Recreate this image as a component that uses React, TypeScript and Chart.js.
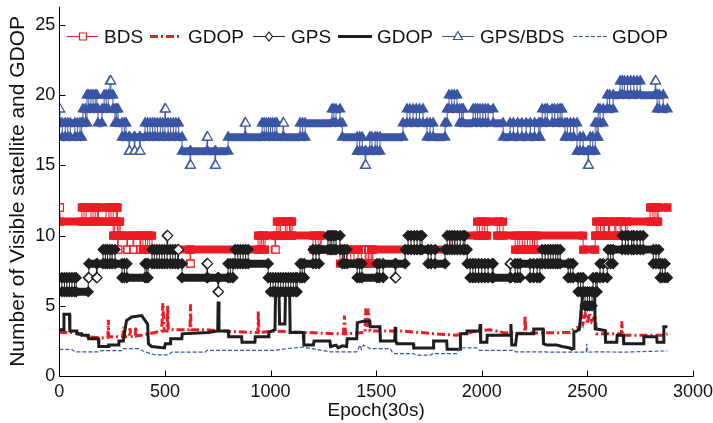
import { useEffect, useRef } from 'react';
import { Chart, registerables } from 'chart.js';
Chart.register(...registerables);

const FONT = '"Liberation Sans", Arial, Helvetica, sans-serif';
const RED = '#EC1C24';
const BLACK = '#1E1E1E';
const BLUE = '#3A55A5';

const xTicks = [0, 500, 1000, 1500, 2000, 2500, 3000];
const yTicks = [0, 5, 10, 15, 20, 25];
const legendLabels = ['BDS', 'GDOP', 'GPS', 'GDOP', 'GPS/BDS', 'GDOP'];

// satellite counts: [epoch, value] change points
const bdsCount: [number, number][] = [
  [0,12],[3,11],[107,12],[117,11],[127,12],[150,11],[160,12],[170,11],[180,12],[185,11],[221,12],[235,11],[245,12],[255,10],[262,11],[270,12],[276,9],[279,10],[283,11],[288,10],[320,9],[323,10],[349,9],[352,10],[382,9],[385,10],[396,9],[408,10],[418,9],[428,10],[439,9],[619,8],[622,9],[941,10],[950,9],[958,10],[966,9],[974,10],[1021,9],[1024,10],[1030,11],[1040,10],[1048,11],[1070,10],[1078,11],[1090,10],[1096,11],[1102,10],[1201,9],[1213,10],[1225,9],[1235,10],[1240,9],[1329,8],[1345,9],[1360,8],[1380,9],[1395,8],[1415,9],[1430,8],[1448,9],[1452,8],[1462,9],[1466,8],[1476,9],[1480,8],[1485,9],[1850,10],[1862,9],[1873,10],[1978,11],[1990,10],[2002,11],[2014,10],[2026,11],[2073,10],[2085,11],[2101,10],[2158,9],[2170,10],[2180,9],[2192,10],[2204,9],[2216,10],[2228,9],[2240,10],[2250,9],[2262,10],[2480,9],[2537,10],[2542,11],[2550,10],[2562,11],[2575,10],[2580,11],[2600,10],[2605,11],[2630,10],[2635,11],[2655,10],[2660,11],[2680,10],[2688,11],[2797,12],[2810,11],[2820,12],[2830,11],[2835,12],[2879,12]
];
const gpsCount: [number, number][] = [
  [0,7],[12,6],[24,7],[36,6],[48,7],[60,6],[72,7],[80,6],[137,7],[140,8],[176,7],[179,8],[207,9],[218,8],[228,9],[240,8],[250,9],[264,8],[297,7],[308,8],[320,7],[406,8],[414,7],[420,8],[439,9],[450,8],[462,9],[474,8],[486,9],[498,8],[510,10],[513,9],[525,8],[537,9],[549,8],[561,9],[564,8],[581,7],[699,8],[702,7],[751,6],[754,7],[799,8],[810,7],[822,8],[832,9],[845,8],[857,9],[870,8],[882,9],[894,8],[989,7],[1000,6],[1012,7],[1024,6],[1036,7],[1048,6],[1060,7],[1072,6],[1084,7],[1096,6],[1108,7],[1120,6],[1126,7],[1140,8],[1150,7],[1160,8],[1201,9],[1215,8],[1230,9],[1272,10],[1282,9],[1290,10],[1300,9],[1310,10],[1329,9],[1340,8],[1350,9],[1362,8],[1410,7],[1422,8],[1433,7],[1504,8],[1515,7],[1533,8],[1590,7],[1593,8],[1637,9],[1651,10],[1665,9],[1680,10],[1694,9],[1708,10],[1717,9],[1746,8],[1760,9],[1779,8],[1826,9],[1836,10],[1848,9],[1860,10],[1872,9],[1884,10],[1898,9],[1912,10],[1920,9],[1931,8],[1945,7],[1958,8],[1970,7],[1985,8],[2000,7],[2015,8],[2030,7],[2049,8],[2054,7],[2134,8],[2137,7],[2158,8],[2170,7],[2182,8],[2229,7],[2245,8],[2262,7],[2275,8],[2286,9],[2300,8],[2314,9],[2326,8],[2338,9],[2350,8],[2360,9],[2371,8],[2409,7],[2420,8],[2432,7],[2456,6],[2468,7],[2480,6],[2489,5],[2500,6],[2510,5],[2522,6],[2527,7],[2540,6],[2546,7],[2560,8],[2575,7],[2594,8],[2598,9],[2610,8],[2622,9],[2665,10],[2680,9],[2693,10],[2710,9],[2720,10],[2735,9],[2750,10],[2764,9],[2812,8],[2825,9],[2838,8],[2845,7],[2855,8],[2868,7],[2879,7]
];
const gpsBdsCount: [number, number][] = [
  [0,19],[3,18],[14,17],[28,18],[40,17],[52,18],[74,17],[86,18],[98,17],[106,18],[112,19],[124,18],[131,20],[140,19],[150,20],[160,19],[170,20],[178,19],[183,18],[202,19],[212,20],[222,19],[232,20],[240,21],[244,20],[254,19],[264,18],[270,19],[278,18],[297,17],[308,18],[316,17],[330,16],[333,17],[355,16],[358,17],[380,16],[383,17],[406,18],[418,17],[430,18],[442,17],[453,18],[465,17],[478,18],[490,17],[500,19],[503,18],[515,17],[527,18],[540,17],[552,18],[565,17],[581,16],[619,15],[622,16],[699,17],[702,16],[737,15],[740,16],[799,17],[879,18],[882,17],[960,18],[970,17],[980,18],[990,17],[1000,18],[1010,17],[1021,18],[1030,17],[1059,18],[1062,17],[1140,18],[1152,17],[1164,18],[1291,19],[1300,18],[1310,19],[1329,18],[1340,17],[1410,16],[1422,17],[1434,16],[1448,15],[1451,16],[1470,17],[1480,16],[1495,17],[1505,16],[1518,17],[1627,18],[1646,19],[1660,18],[1675,19],[1690,18],[1705,19],[1722,18],[1741,17],[1755,18],[1770,17],[1826,18],[1836,19],[1845,20],[1858,19],[1870,20],[1883,19],[1895,18],[1905,19],[1912,18],[1959,19],[1970,18],[1980,19],[1992,18],[2005,19],[2018,18],[2030,19],[2054,18],[2101,17],[2134,18],[2150,17],[2170,18],[2190,17],[2210,18],[2230,17],[2250,18],[2270,17],[2276,18],[2286,19],[2300,18],[2310,19],[2333,18],[2345,19],[2360,18],[2371,19],[2380,18],[2394,17],[2405,18],[2420,17],[2435,18],[2451,16],[2465,17],[2480,16],[2503,15],[2506,16],[2513,17],[2525,16],[2537,18],[2546,17],[2551,19],[2560,18],[2575,19],[2594,20],[2605,19],[2622,20],[2655,21],[2665,20],[2675,21],[2690,20],[2705,21],[2720,20],[2735,21],[2750,20],[2821,21],[2824,20],[2830,19],[2840,20],[2859,19],[2879,19]
];

// GDOP: [epoch, value]
const bdsGdop: [number, number][] = [
  [0,3.1],[60,3.1],[137,2.8],[200,2.7],[230,2.75],[232,4.0],[234,2.8],[270,2.8],[300,2.8],[305,3.5],[308,2.8],[330,2.8],[335,3.4],[338,2.8],[360,2.85],[362,3.5],[365,2.85],[421,3.0],[453,3.1],[485,3.2],[490,5.2],[497,3.2],[510,3.2],[513,5.0],[516,3.3],[600,3.3],[619,3.3],[621,5.1],[624,3.3],[690,3.3],[769,3.2],[926,3.1],[940,3.1],[942,4.6],[945,3.1],[1021,3.2],[1171,3.1],[1313,3.0],[1345,3.0],[1350,4.3],[1355,3.0],[1447,3.1],[1450,4.8],[1458,3.5],[1462,4.8],[1471,3.2],[1629,3.2],[1787,3.0],[1881,2.9],[1976,3.2],[2039,3.3],[2100,3.1],[2150,3.05],[2203,3.05],[2205,4.3],[2208,3.05],[2418,3.1],[2440,3.4],[2465,3.5],[2470,4.5],[2480,3.8],[2490,4.4],[2500,3.7],[2510,4.5],[2520,3.9],[2536,4.3],[2544,3.0],[2661,3.0],[2663,3.9],[2666,2.9],[2860,2.9],[2879,3.0]
];
const gpsGdop: [number, number][] = [
  [0,3.3],[20,3.3],[22,4.4],[48,4.4],[50,3.2],[83,3.2],[85,3.0],[106,3.0],[108,2.9],[137,2.9],[139,2.65],[185,2.65],[187,2.1],[232,2.1],[234,2.2],[280,2.2],[282,2.5],[303,2.5],[318,3.95],[343,4.2],[390,4.3],[418,3.7],[422,2.3],[437,2.1],[498,2.0],[502,2.3],[525,2.3],[527,2.65],[580,2.65],[582,3.0],[705,3.1],[750,3.2],[752,5.3],[756,3.2],[800,3.2],[802,2.8],[863,2.8],[865,2.4],[926,2.4],[928,2.8],[990,2.8],[992,3.1],[1021,3.3],[1024,6.2],[1040,6.0],[1043,3.7],[1068,3.7],[1071,6.0],[1090,6.2],[1093,3.1],[1155,3.1],[1158,2.2],[1203,2.2],[1206,2.5],[1281,2.5],[1284,2.1],[1310,2.2],[1320,2.0],[1340,2.15],[1360,2.1],[1363,2.65],[1408,2.65],[1411,3.8],[1440,3.9],[1470,3.9],[1472,3.5],[1518,3.5],[1520,2.5],[1588,2.5],[1590,3.5],[1593,2.5],[1598,2.3],[1676,2.3],[1678,2.0],[1770,2.0],[1772,2.5],[1834,2.5],[1836,1.9],[1897,1.9],[1899,3.0],[1928,3.0],[1930,3.2],[1990,3.2],[1992,3.7],[1995,2.4],[2024,2.4],[2026,2.9],[2135,2.9],[2138,3.7],[2142,2.2],[2160,2.2],[2166,3.0],[2244,3.0],[2246,3.35],[2290,3.35],[2292,2.3],[2308,2.2],[2355,2.2],[2380,2.1],[2418,2.0],[2422,1.95],[2434,1.95],[2436,3.1],[2462,3.3],[2478,5.8],[2482,6.1],[2520,6.1],[2534,6.0],[2537,3.36],[2584,3.24],[2586,2.4],[2639,2.4],[2641,2.9],[2670,2.9],[2672,2.3],[2765,2.3],[2767,2.8],[2828,2.8],[2830,2.4],[2860,2.4],[2862,3.5],[2879,3.5]
];
const gpsBdsGdop: [number, number][] = [
  [0,1.9],[59,1.9],[74,1.72],[185,1.72],[200,1.8],[295,1.8],[300,1.95],[374,1.95],[406,1.72],[453,1.5],[516,1.5],[532,1.7],[690,1.7],[700,1.83],[1021,1.83],[1077,1.95],[1156,2.05],[1282,1.72],[1408,1.72],[1424,2.2],[1430,1.9],[1440,2.2],[1471,1.95],[1566,1.95],[1580,1.6],[1676,1.6],[1690,1.48],[1755,1.48],[1770,1.6],[1881,1.6],[1895,2.0],[1976,2.0],[1990,1.83],[2150,1.83],[2160,1.72],[2300,1.72],[2308,1.7],[2495,1.7],[2497,2.3],[2500,1.7],[2544,1.72],[2670,1.7],[2860,1.78],[2879,1.78]
];

type P = [number, number][];

function thinStep(pts: P, color: string, order: number) {
  return {
    type: 'line' as const,
    data: pts.map(([x, y]) => ({ x, y })),
    stepped: true,
    borderColor: color,
    borderWidth: 1,
    pointRadius: 0,
    order,
  };
}

function band(pts: P, color: string, style: string, radius: number, order: number) {
  const data: any[] = [];
  for (let i = 0; i < pts.length - 1; i++) {
    const [x0, v] = pts[i];
    const x1 = pts[i + 1][0];
    const iso = x1 - x0 <= 4;
    data.push({ x: x0, y: v, iso });
    data.push({ x: x1, y: v, iso });
    data.push({ x: x1, y: null });
  }
  return {
    type: 'line' as const,
    data,
    borderColor: color,
    borderWidth: 8,
    borderCapStyle: 'butt',
    spanGaps: false,
    pointStyle: style,
    pointRadius: (c: any) => (c.raw && c.raw.y != null ? radius : 0),
    pointBackgroundColor: (c: any) => (c.raw && c.raw.iso ? '#ffffff' : color),
    pointBorderColor: color,
    pointBorderWidth: 1.2,
    order,
  };
}

function gdopLine(pts: P, color: string, width: number, dash: number[], order: number) {
  return {
    type: 'line' as const,
    data: pts.map(([x, y]) => ({ x, y })),
    borderColor: color,
    borderWidth: width,
    borderDash: dash,
    pointRadius: 0,
    order,
  };
}

const legendItems = [
  { x0: 67, x1: 98, mx: 83, marker: 'rect', color: RED, w: 1, dash: [] as number[], tx: 104 },
  { x0: 150, x1: 182, mx: 0, marker: '', color: RED, w: 3, dash: [8, 3, 2, 3], tx: 188 },
  { x0: 253, x1: 285, mx: 269, marker: 'diamond', color: BLACK, w: 1, dash: [], tx: 291 },
  { x0: 338, x1: 372, mx: 0, marker: '', color: BLACK, w: 3, dash: [], tx: 377 },
  { x0: 442, x1: 474, mx: 458, marker: 'triangle', color: BLUE, w: 1, dash: [], tx: 480 },
  { x0: 573, x1: 608, mx: 0, marker: '', color: BLUE, w: 1.2, dash: [4, 2], tx: 612 },
];

const decor = {
  id: 'decor',
  afterDraw(chart: any) {
    const ctx = chart.ctx as CanvasRenderingContext2D;
    const { left, bottom, top } = chart.chartArea;
    const xs = chart.scales.x;
    const ys = chart.scales.y;
    ctx.save();
    ctx.strokeStyle = '#000';
    ctx.lineWidth = 1;
    ctx.beginPath();
    const L = Math.round(left) + 0.5;
    const B = Math.round(bottom) + 0.5;
    ctx.moveTo(L, top);
    ctx.lineTo(L, B);
    ctx.lineTo(Math.round(xs.getPixelForValue(3000)) + 0.5, B);
    for (const v of xTicks) {
      const px = Math.round(xs.getPixelForValue(v)) + 0.5;
      ctx.moveTo(px, B);
      ctx.lineTo(px, B - 6);
    }
    for (const v of yTicks) {
      const py = Math.round(ys.getPixelForValue(v)) + 0.5;
      ctx.moveTo(L, py);
      ctx.lineTo(L + 6, py);
    }
    ctx.stroke();

    // legend
    const ly = 36.5;
    ctx.font = `19px ${FONT}`;
    ctx.textBaseline = 'middle';
    legendItems.forEach((it, i) => {
      ctx.strokeStyle = it.color;
      ctx.lineWidth = it.w;
      ctx.setLineDash(it.dash);
      ctx.beginPath();
      ctx.moveTo(it.x0, ly);
      ctx.lineTo(it.x1, ly);
      ctx.stroke();
      ctx.setLineDash([]);
      if (it.marker) {
        ctx.fillStyle = '#fff';
        ctx.lineWidth = 1.2;
        ctx.beginPath();
        if (it.marker === 'rect') ctx.rect(it.mx - 3.5, ly - 3.5, 7, 7);
        if (it.marker === 'diamond') {
          ctx.moveTo(it.mx, ly - 4.5); ctx.lineTo(it.mx + 3.5, ly); ctx.lineTo(it.mx, ly + 4.5); ctx.lineTo(it.mx - 3.5, ly); ctx.closePath();
        }
        if (it.marker === 'triangle') {
          ctx.moveTo(it.mx, ly - 5); ctx.lineTo(it.mx + 4.5, ly + 3); ctx.lineTo(it.mx - 4.5, ly + 3); ctx.closePath();
        }
        ctx.fill();
        ctx.stroke();
      }
      ctx.fillStyle = '#111';
      ctx.fillText(legendLabels[i], it.tx, ly + 1);
    });
    ctx.restore();
  },
};

export default function App() {
  const ref = useRef<HTMLCanvasElement | null>(null);
  useEffect(() => {
    if (!ref.current) return;
    const tickFont = { family: FONT, size: 18 };
    const chart = new Chart(ref.current, {
      type: 'line',
      data: {
        datasets: [
          thinStep(bdsCount, RED, 12) as any,
          band(bdsCount, RED, 'rect', 5, 11) as any,
          gdopLine(bdsGdop, RED, 3, [8, 3, 2, 3], 10) as any,
          thinStep(gpsCount, BLACK, 9) as any,
          band(gpsCount, BLACK, 'rectRot', 5, 8) as any,
          gdopLine(gpsGdop, BLACK, 3, [], 7) as any,
          thinStep(gpsBdsCount, BLUE, 6) as any,
          band(gpsBdsCount, BLUE, 'triangle', 5.5, 5) as any,
          gdopLine(gpsBdsGdop, BLUE, 1.2, [4, 2], 4) as any,
        ],
      },
      options: {
        animation: false,
        responsive: false,
        events: [],
        layout: { padding: { top: 2.8, right: 20, left: 0, bottom: 0 } },
        plugins: { legend: { display: false }, tooltip: { enabled: false } },
        elements: { line: { tension: 0 } },
        scales: {
          x: {
            type: 'linear',
            min: 0,
            max: 3000,
            afterBuildTicks: (s: any) => { s.ticks = xTicks.map((v) => ({ value: v })); },
            afterFit: (s: any) => { s.height = 47; s.paddingLeft = 0; s.paddingRight = 0; },
            grid: { display: false, drawTicks: false },
            border: { display: false },
            ticks: { font: tickFont, color: '#111', padding: 5, maxRotation: 0, autoSkip: false, callback: (v: any) => String(v) },
            title: { display: true, text: 'Epoch(30s)', font: { family: FONT, size: 19 }, color: '#111', padding: { top: 0, bottom: 1 } },
          },
          y: {
            type: 'linear',
            min: 0,
            max: 26.3,
            afterBuildTicks: (s: any) => { s.ticks = yTicks.map((v) => ({ value: v })); },
            afterFit: (s: any) => { s.width = 59.3; s.paddingTop = 0; s.paddingBottom = 0; },
            grid: { display: false, drawTicks: false },
            border: { display: false },
            ticks: { font: tickFont, color: '#111', padding: 4, autoSkip: false, callback: (v: any) => String(v) },
            title: { display: true, text: 'Number of Visible satellite and GDOP', font: { family: FONT, size: 21 }, color: '#111', padding: { top: 6, bottom: 0 } },
          },
        },
      },
      plugins: [decor],
    });
    return () => chart.destroy();
  }, []);
  return (
    <div style={{ position: 'fixed', left: 0, top: 0, width: 713, height: 423, background: '#fff' }}>
      <canvas ref={ref} width={713} height={423} style={{ width: 713, height: 423, display: 'block' }} />
    </div>
  );
}
